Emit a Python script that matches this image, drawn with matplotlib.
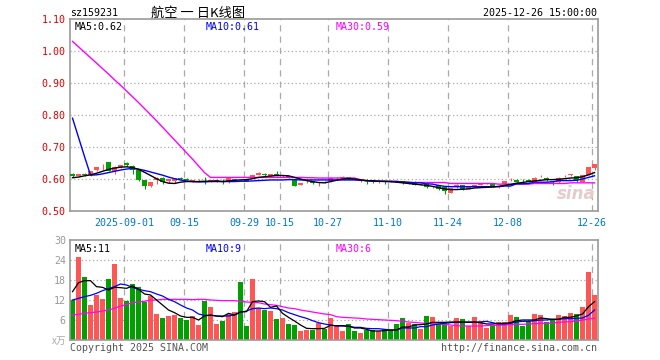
import matplotlib
matplotlib.use("Agg")
import matplotlib.pyplot as plt
import numpy as np

# ---- data (88 trading days, 2025-08-19 .. 2025-12-26) ----
opens = [0.617, 0.609, 0.617, 0.611, 0.627, 0.637, 0.653, 0.625, 0.636, 0.650,
         0.642, 0.627, 0.596, 0.577, 0.597, 0.602, 0.593, 0.594, 0.602, 0.601,
         0.595, 0.597, 0.600, 0.595, 0.595, 0.597, 0.590, 0.598, 0.600, 0.597,
         0.605, 0.613, 0.614, 0.608, 0.616, 0.610, 0.608, 0.600, 0.581, 0.593,
         0.590, 0.586, 0.592, 0.594, 0.602, 0.604, 0.606, 0.601, 0.595, 0.597,
         0.596, 0.594, 0.593, 0.594, 0.594, 0.593, 0.586, 0.592, 0.584, 0.585,
         0.575, 0.580, 0.575, 0.557, 0.578, 0.580, 0.569, 0.576, 0.581, 0.585,
         0.587, 0.576, 0.583, 0.597, 0.598, 0.598, 0.598, 0.591, 0.608, 0.604,
         0.592, 0.590, 0.609, 0.613, 0.609, 0.591, 0.613, 0.634]
closes = [0.609, 0.616, 0.612, 0.625, 0.637, 0.638, 0.626, 0.637, 0.644, 0.645,
          0.629, 0.596, 0.577, 0.591, 0.603, 0.591, 0.599, 0.602, 0.601, 0.597,
          0.596, 0.598, 0.599, 0.596, 0.598, 0.596, 0.605, 0.599, 0.599, 0.595,
          0.612, 0.620, 0.613, 0.616, 0.611, 0.611, 0.606, 0.579, 0.587, 0.594,
          0.586, 0.587, 0.590, 0.603, 0.604, 0.606, 0.601, 0.600, 0.596, 0.596,
          0.595, 0.595, 0.592, 0.593, 0.593, 0.592, 0.587, 0.582, 0.585, 0.574,
          0.576, 0.569, 0.562, 0.572, 0.580, 0.569, 0.576, 0.581, 0.588, 0.586,
          0.577, 0.577, 0.593, 0.598, 0.592, 0.597, 0.592, 0.604, 0.609, 0.596,
          0.591, 0.604, 0.610, 0.614, 0.597, 0.613, 0.636, 0.646]
highs = [0.618, 0.617, 0.619, 0.626, 0.638, 0.646, 0.654, 0.640, 0.645, 0.652,
         0.643, 0.628, 0.597, 0.592, 0.605, 0.607, 0.600, 0.603, 0.607, 0.602,
         0.598, 0.600, 0.607, 0.598, 0.599, 0.600, 0.607, 0.601, 0.601, 0.598,
         0.613, 0.621, 0.620, 0.617, 0.624, 0.612, 0.609, 0.601, 0.589, 0.597,
         0.592, 0.590, 0.594, 0.605, 0.607, 0.609, 0.607, 0.602, 0.598, 0.599,
         0.597, 0.597, 0.595, 0.596, 0.595, 0.594, 0.589, 0.593, 0.588, 0.586,
         0.578, 0.581, 0.576, 0.573, 0.583, 0.582, 0.577, 0.582, 0.589, 0.588,
         0.588, 0.579, 0.594, 0.602, 0.599, 0.599, 0.599, 0.605, 0.612, 0.605,
         0.593, 0.606, 0.613, 0.617, 0.610, 0.614, 0.637, 0.648]
lows = [0.607, 0.608, 0.610, 0.609, 0.625, 0.629, 0.625, 0.615, 0.634, 0.642,
        0.616, 0.595, 0.568, 0.576, 0.585, 0.585, 0.586, 0.587, 0.597, 0.596,
        0.592, 0.594, 0.585, 0.590, 0.592, 0.584, 0.589, 0.596, 0.597, 0.594,
        0.604, 0.612, 0.608, 0.607, 0.610, 0.607, 0.604, 0.577, 0.580, 0.589,
        0.585, 0.578, 0.588, 0.592, 0.600, 0.603, 0.600, 0.598, 0.590, 0.584,
        0.587, 0.589, 0.584, 0.590, 0.591, 0.585, 0.583, 0.581, 0.582, 0.573,
        0.573, 0.567, 0.552, 0.556, 0.572, 0.566, 0.568, 0.574, 0.580, 0.584,
        0.575, 0.573, 0.582, 0.594, 0.591, 0.588, 0.591, 0.590, 0.605, 0.594,
        0.581, 0.589, 0.605, 0.609, 0.591, 0.590, 0.612, 0.629]

ma5 = [0.604, 0.606, 0.610, 0.613, 0.618, 0.624, 0.630, 0.634, 0.637, 0.638,
       0.636, 0.630, 0.621, 0.611, 0.601, 0.592, 0.587, 0.586, 0.590, 0.592,
       0.592, 0.592, 0.593, 0.593, 0.594, 0.592, 0.594, 0.596, 0.597, 0.598,
       0.601, 0.605, 0.607, 0.609, 0.611, 0.611, 0.610, 0.605, 0.600, 0.595,
       0.592, 0.589, 0.588, 0.592, 0.596, 0.600, 0.601, 0.600, 0.597, 0.595,
       0.594, 0.593, 0.593, 0.592, 0.590, 0.588, 0.586, 0.584, 0.582, 0.580,
       0.577, 0.573, 0.569, 0.567, 0.567, 0.568, 0.569, 0.572, 0.573, 0.574,
       0.575, 0.577, 0.580, 0.583, 0.587, 0.589, 0.592, 0.594, 0.596, 0.598,
       0.598, 0.599, 0.601, 0.603, 0.604, 0.607, 0.613, 0.620]
ma10 = [0.790, 0.730, 0.670, 0.612, 0.613, 0.616, 0.620, 0.624, 0.628, 0.631,
        0.633, 0.631, 0.627, 0.622, 0.617, 0.612, 0.606, 0.601, 0.597, 0.594,
        0.592, 0.591, 0.591, 0.592, 0.592, 0.592, 0.592, 0.592, 0.593, 0.593,
        0.594, 0.595, 0.596, 0.597, 0.597, 0.597, 0.598, 0.598, 0.597, 0.597,
        0.597, 0.597, 0.597, 0.597, 0.597, 0.597, 0.597, 0.597, 0.596, 0.595,
        0.594, 0.593, 0.592, 0.592, 0.592, 0.591, 0.590, 0.588, 0.588, 0.585,
        0.584, 0.580, 0.577, 0.576, 0.576, 0.576, 0.576, 0.576, 0.576, 0.576,
        0.576, 0.576, 0.578, 0.578, 0.585, 0.585, 0.586, 0.590, 0.590, 0.590,
        0.591, 0.595, 0.595, 0.595, 0.596, 0.600, 0.605, 0.610]
ma30 = [1.030, 1.013, 0.996, 0.979, 0.962, 0.945, 0.928, 0.910, 0.893, 0.875,
        0.857, 0.839, 0.820, 0.801, 0.782, 0.762, 0.742, 0.722, 0.702, 0.682,
        0.662, 0.641, 0.620, 0.605, 0.605, 0.605, 0.605, 0.605, 0.605, 0.605,
        0.605, 0.605, 0.605, 0.605, 0.605, 0.605, 0.605, 0.605, 0.605, 0.604,
        0.604, 0.603, 0.603, 0.603, 0.603, 0.603, 0.603, 0.603, 0.598, 0.594,
        0.593, 0.593, 0.593, 0.593, 0.593, 0.590, 0.589, 0.589, 0.589, 0.589,
        0.589, 0.589, 0.589, 0.586, 0.586, 0.586, 0.586, 0.586, 0.586, 0.586,
        0.586, 0.584, 0.584, 0.584, 0.584, 0.584, 0.584, 0.586, 0.586, 0.586,
        0.586, 0.586, 0.586, 0.588, 0.588, 0.588, 0.588, 0.588]

volume = [12.0, 25.0, 18.9, 10.5, 13.5, 12.3, 18.3, 22.9, 12.7, 11.8,
          16.8, 16.0, 11.4, 13.3, 7.8, 6.6, 7.2, 7.5, 6.6, 6.0,
          7.3, 4.5, 11.7, 9.9, 4.8, 5.8, 7.8, 8.5, 17.4, 4.2,
          18.3, 9.5, 9.0, 8.7, 6.3, 6.6, 4.8, 4.5, 2.8, 3.0,
          3.0, 5.1, 3.3, 6.6, 4.2, 2.7, 4.8, 2.7, 2.1, 3.0,
          3.0, 2.7, 3.3, 3.0, 4.8, 6.6, 5.1, 4.8, 3.3, 7.2,
          6.9, 4.8, 5.1, 4.2, 6.6, 6.3, 4.2, 6.9, 5.7, 3.6,
          4.2, 5.4, 5.4, 7.5, 6.9, 4.2, 5.7, 7.8, 7.5, 5.4,
          6.0, 7.5, 7.2, 8.1, 7.8, 9.9, 20.4, 13.5]
vma5 = [14.5, 17.2, 17.8, 17.8, 16.0, 15.8, 15.0, 15.8, 15.7, 15.5,
        16.2, 15.2, 13.8, 13.5, 12.0, 10.5, 9.0, 8.2, 7.2, 6.8,
        6.8, 6.0, 7.2, 7.5, 7.2, 7.0, 8.0, 7.5, 8.5, 8.5,
        11.5, 11.7, 11.5, 9.8, 10.2, 8.0, 6.8, 5.7, 4.5, 3.5,
        3.4, 3.4, 3.5, 4.4, 4.3, 4.3, 4.2, 3.6, 3.6, 3.2,
        2.7, 2.7, 2.8, 3.0, 3.0, 3.9, 3.9, 4.5, 4.6, 4.8,
        5.3, 5.3, 5.3, 5.4, 5.4, 5.4, 5.4, 5.4, 5.2, 4.8,
        4.8, 5.0, 5.0, 5.2, 5.8, 6.0, 6.0, 6.0, 6.6, 6.4,
        6.2, 6.2, 6.8, 6.8, 7.2, 7.8, 10.0, 11.5]
vma10 = [12.0, 12.5, 13.0, 13.4, 14.0, 14.8, 15.4, 16.0, 16.8, 16.5,
         15.8, 15.2, 14.8, 14.5, 13.8, 13.2, 12.2, 11.5, 10.5, 9.6,
         9.0, 7.8, 7.4, 7.4, 7.2, 7.2, 7.2, 7.5, 8.3, 8.7,
         9.4, 9.6, 9.4, 9.6, 9.4, 9.0, 8.2, 7.6, 7.0, 6.5,
         5.8, 5.2, 4.8, 4.5, 4.2, 4.2, 4.1, 3.8, 3.8, 3.5,
         3.4, 3.4, 3.2, 3.0, 3.0, 3.6, 3.6, 3.6, 4.0, 4.0,
         4.5, 4.8, 5.0, 5.2, 5.3, 5.3, 5.3, 5.3, 5.4, 5.6,
         5.2, 4.8, 4.8, 5.0, 5.4, 5.6, 5.6, 5.8, 6.0, 6.0,
         6.2, 6.2, 6.4, 6.4, 6.5, 6.6, 7.4, 9.0]
vma30 = [7.5, 7.7, 8.0, 8.2, 8.4, 8.7, 9.0, 9.5, 10.2, 10.6,
         11.2, 11.4, 11.6, 12.0, 12.0, 12.2, 12.2, 12.2, 12.2, 12.2,
         12.1, 12.2, 12.2, 12.0, 11.9, 11.8, 11.8, 11.8, 11.6, 11.4,
         11.3, 11.2, 10.8, 10.6, 10.4, 10.0, 9.6, 9.4, 9.0, 8.7,
         8.4, 8.1, 7.8, 7.6, 7.0, 6.8, 6.7, 6.6, 6.5, 6.3,
         6.2, 6.1, 6.0, 5.9, 5.8, 5.6, 5.4, 5.3, 5.1, 5.0,
         4.9, 4.8, 4.7, 4.5, 4.3, 4.2, 4.2, 4.2, 4.2, 4.3,
         4.4, 4.4, 4.5, 4.6, 4.7, 4.7, 4.8, 4.9, 5.0, 5.0,
         5.1, 5.3, 5.4, 5.5, 5.7, 6.0, 6.3, 6.5]

tick_idx = [9, 19, 29, 35, 43, 53, 63, 73, 87]
tick_labels = ["2025-09-01", "09-15", "09-29", "10-15", "10-27",
               "11-10", "11-24", "12-08", "12-26"]

RED = "#ff5555"
GREEN = "#00a000"
MONO = "DejaVu Sans Mono"
FS = 7.2

n = len(closes)
x = np.arange(n)
xc = x + 0.42
up = np.array(closes) >= np.array(opens)
colors = [RED if u else GREEN for u in up]

fig = plt.figure(figsize=(6.6, 3.6), dpi=100)
W, H = 660, 360

def px_axes(left, top, width, height):
    return fig.add_axes([left / W, (H - top - height) / H, width / W, height / H])

def style(ax):
    for s in ax.spines.values():
        s.set_color("#999999")
        s.set_linewidth(1.2)
    ax.set_xlim(0, n)
    ax.tick_params(length=0)
    for t in tick_idx:
        ax.axvline(t, color="#aaaaaa", lw=0.9, ls=(0, (5, 4)), zorder=0)

# ---- price panel ----
ax = px_axes(70, 19, 528, 192)
style(ax)
ax.set_ylim(0.5, 1.1)
for yv in [0.6, 0.7, 0.8, 0.9, 1.0]:
    ax.axhline(yv, color="#aaaaaa", lw=0.9, ls=(0, (1, 2)), zorder=0)
body_bottom = np.minimum(opens, closes)
body_h = np.maximum(np.abs(np.array(closes) - np.array(opens)), 0.0012)
ax.vlines(xc, lows, highs, colors=colors, lw=0.8, zorder=2)
ax.bar(x, body_h, width=5 / 6, bottom=body_bottom, align="edge",
       color=colors, lw=0, zorder=3)
ax.plot(xc, ma30, color="#ff00ff", lw=1.0, zorder=4)
ax.plot(xc, ma10, color="#0000ff", lw=1.0, zorder=4)
ax.plot(xc, ma5, color="#000000", lw=1.0, zorder=5)
ax.set_yticks([0.5, 0.6, 0.7, 0.8, 0.9, 1.0, 1.1])
ax.set_yticklabels(["0.50", "0.60", "0.70", "0.80", "0.90", "1.00", "1.10"],
                   family=MONO, fontsize=FS, color="#e00000")
ax.set_xticks(tick_idx)
ax.set_xticklabels(tick_labels, family=MONO, fontsize=FS, color="#0077cc")
ax.tick_params(axis="x", pad=5)
ax.tick_params(axis="y", pad=3)
ax.text(0.008, 0.985, "MA5:0.62", transform=ax.transAxes, family=MONO,
        fontsize=FS, color="black", va="top")
ax.text(0.256, 0.985, "MA10:0.61", transform=ax.transAxes, family=MONO,
        fontsize=FS, color="#0000ff", va="top")
ax.text(0.503, 0.985, "MA30:0.59", transform=ax.transAxes, family=MONO,
        fontsize=FS, color="#ff00ff", va="top")
ax.text(0.995, 0.04, "sina", transform=ax.transAxes, fontsize=12,
        fontweight="bold", style="italic", color="#e6cccc", ha="right",
        va="bottom", zorder=1)

# ---- volume panel ----
vx = px_axes(70, 240, 528, 100)
style(vx)
vx.set_ylim(0, 30)
for yv in [6, 12, 18, 24]:
    vx.axhline(yv, color="#aaaaaa", lw=0.9, ls=(0, (1, 2)), zorder=0)
vx.bar(x, volume, width=5 / 6, align="edge", color=colors, lw=0, zorder=2)
vx.plot(xc, vma30, color="#ff00ff", lw=0.9, zorder=3)
vx.plot(xc, vma10, color="#0000ff", lw=0.9, zorder=3)
vx.plot(xc, vma5, color="#000000", lw=0.9, zorder=4)
vx.set_yticks([0, 6, 12, 18, 24, 30])
vx.set_yticklabels(["", "6", "12", "18", "24", "30"], family=MONO,
                   fontsize=FS, color="#999999")
vx.tick_params(axis="y", pad=3)
vx.set_xticks([])
vx.text(0.008, 0.96, "MA5:11", transform=vx.transAxes, family=MONO,
        fontsize=FS, color="black", va="top")
vx.text(0.256, 0.96, "MA10:9", transform=vx.transAxes, family=MONO,
        fontsize=FS, color="#0000ff", va="top")
vx.text(0.503, 0.96, "MA30:6", transform=vx.transAxes, family=MONO,
        fontsize=FS, color="#ff00ff", va="top")

# ---- header / footer texts ----
fig.text(70 / W, 1 - 13 / H, "sz159231", family=MONO, fontsize=FS,
         color="black", va="center")
fig.text(198 / W, 1 - 13 / H, "航空 一 日K线图",
         family=["Noto Sans CJK SC", "DejaVu Sans"], fontsize=9.5,
         color="black", ha="center", va="center")
fig.text(597 / W, 1 - 13 / H, "2025-12-26 15:00:00", family=MONO,
         fontsize=FS, color="black", ha="right", va="center")
fig.text(66 / W, 1 - 341 / H, "x万",
         family=["Noto Sans CJK SC", "DejaVu Sans"], fontsize=7,
         color="#aaaaaa", ha="right", va="center")
fig.text(70 / W, 1 - 348 / H, "Copyright 2025 SINA.COM", family=MONO,
         fontsize=FS, color="#555555", va="center")
fig.text(597 / W, 1 - 348 / H, "http://finance.sina.com.cn", family=MONO,
         fontsize=FS, color="#555555", ha="right", va="center")

fig.savefig("out.png", dpi=100)
